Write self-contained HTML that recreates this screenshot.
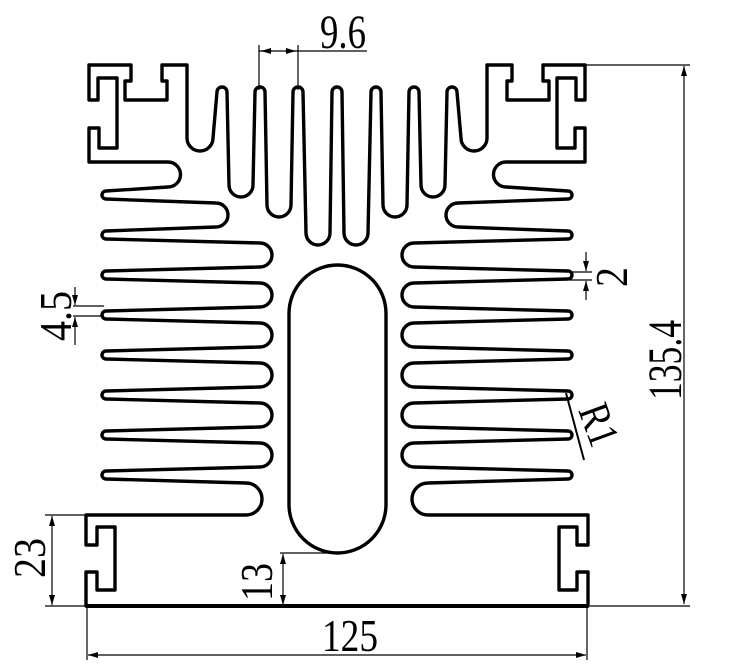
<!DOCTYPE html>
<html><head><meta charset="utf-8"><style>
html,body{margin:0;padding:0;background:#fff;width:738px;height:672px;overflow:hidden}
text{font-family:"Liberation Serif",serif;fill:#000}
</style></head><body>
<svg id="s" width="738" height="672" viewBox="0 0 738 672" xmlns="http://www.w3.org/2000/svg">
<defs>
<marker id="a" viewBox="0 0 10 6" refX="10" refY="3" markerWidth="10" markerHeight="6" orient="auto-start-reverse" markerUnits="userSpaceOnUse"><path d="M0,0 L10,3 L0,6 z" fill="#000"/></marker>
</defs>
<g id="prof" fill="none" stroke="#000" stroke-width="3.4" stroke-linejoin="round">
<path id="half"/>
<use href="#half" transform="translate(674,0) scale(-1,1)"/>
<rect x="289" y="265" width="97" height="288" rx="48.5" ry="48.5"/>
</g>
<line x1="86" y1="606" x2="588" y2="606" stroke="#000" stroke-width="4"/>
<g stroke="#000" stroke-width="1.2" fill="none">
<line x1="259" y1="45" x2="259" y2="90"/><line x1="298" y1="45" x2="298" y2="90"/>
<line x1="259" y1="51" x2="367" y2="51"/>
<line x1="261" y1="51" x2="272" y2="51" marker-start="url(#a)"/>
<line x1="285" y1="51" x2="296" y2="51" marker-end="url(#a)"/>
<line x1="585" y1="65" x2="690" y2="65"/><line x1="590" y1="606" x2="690" y2="606"/>
<line x1="684" y1="66" x2="684" y2="604" marker-start="url(#a)" marker-end="url(#a)"/>
<line x1="570" y1="272" x2="592" y2="272"/><line x1="570" y1="280" x2="592" y2="280"/>
<line x1="586" y1="252" x2="586" y2="271" marker-end="url(#a)"/>
<line x1="586" y1="300" x2="586" y2="281" marker-end="url(#a)"/>
<line x1="566" y1="393" x2="584" y2="460" stroke-width="2"/>
<line x1="73" y1="306" x2="104" y2="306"/><line x1="73" y1="316" x2="104" y2="316"/>
<line x1="75" y1="287" x2="75" y2="305" marker-end="url(#a)"/>
<line x1="75" y1="345" x2="75" y2="317" marker-end="url(#a)"/>
<line x1="45" y1="515" x2="86" y2="515"/><line x1="45" y1="606" x2="86" y2="606"/>
<line x1="52" y1="516" x2="52" y2="605" marker-start="url(#a)" marker-end="url(#a)"/>
<line x1="280" y1="553" x2="330" y2="553"/>
<line x1="283" y1="554" x2="283" y2="605" marker-start="url(#a)" marker-end="url(#a)"/>
<line x1="87" y1="608" x2="87" y2="660"/><line x1="587" y1="608" x2="587" y2="660"/>
<line x1="88" y1="655" x2="586" y2="655" marker-start="url(#a)" marker-end="url(#a)"/>
</g>
<text x="320" y="48" font-size="48" textLength="46" lengthAdjust="spacingAndGlyphs">9.6</text>
<text x="322" y="651" font-size="46" textLength="56" lengthAdjust="spacingAndGlyphs">125</text>
<text transform="translate(681,400) rotate(-90)" font-size="48" textLength="80" lengthAdjust="spacingAndGlyphs">135.4</text>
<text transform="translate(627,287) rotate(-90)" font-size="46" textLength="20" lengthAdjust="spacingAndGlyphs">2</text>
<text transform="translate(71,341) rotate(-90)" font-size="46" textLength="50" lengthAdjust="spacingAndGlyphs">4.5</text>
<text transform="translate(45,578) rotate(-90)" font-size="46" textLength="40" lengthAdjust="spacingAndGlyphs">23</text>
<text transform="translate(272,601) rotate(-90)" font-size="46" textLength="38" lengthAdjust="spacingAndGlyphs">13</text>
<text transform="translate(578,410) rotate(70)" font-size="44" textLength="42" lengthAdjust="spacingAndGlyphs">R1</text>
</svg>
<script>
var d="M337,87 A5,5 0 0 0 332,92 L330,233 A12,12 0 0 1 306,233 L303,92 A5,5 0 0 0 293,92 L291,205 A12,12 0 0 1 267,205 L265,92 A5,5 0 0 0 255,92 L253,185 A12,12 0 0 1 229,185 L227,92 A5,5 0 0 0 217,92 L213,138 A13,13 0 0 1 187,138 L187,65 L162,65 L162,81 L167,81 L167,100 L125,100 L125,81 L131,81 L131,65 L89,65 L89,100 L98,100 L98,78 L117,78 L117,148 L99,148 L99,128 L89,128 L89,162 L168,162 A12.5,12.5 0 0 1 168,187";
var tips=[195,235,275,315,355,395,435,475];
for(var i=0;i<tips.length;i++){
 var y=tips[i];
 d+=" L106,"+(y-4)+" A4,4 0 0 0 106,"+(y+4);
 if(i<tips.length-1){
  var cx=(i==0)?216:260;
  d+=" L"+cx+","+(y+8)+" A12,12 0 0 1 "+cx+","+(y+32);
 } else {
  d+=" L246,"+(y+8)+" A16,16 0 0 1 246,515";
 }
}
d+=" L86,515 L86,545 L97,545 L97,527 L115,527 L115,590 L97,590 L97,572 L86,572 L86,606 L337,606";
document.getElementById("half").setAttribute("d",d);
</script>
</body></html>
